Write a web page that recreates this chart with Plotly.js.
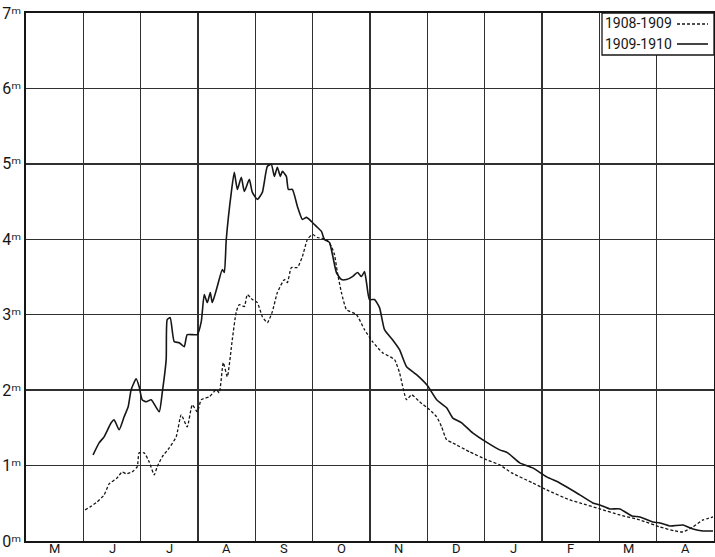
<!DOCTYPE html>
<html>
<head>
<meta charset="utf-8">
<script src="https://cdn.plot.ly/plotly-3.0.1.min.js"></script>
<style>html,body{margin:0;padding:0;background:#fff;}#chart{width:715px;height:557px;}</style>
</head>
<body>
<div id="chart"></div>
<script>
// Months (x axis is in months from the start of May; 0..12)
const monthLabels = ["M","J","J","A","S","O","N","D","J","F","M","A"];
const monthBounds = [0,1,2,3,4,5,6,7,8,9,10,11,12];

// Y axis ticks (metres)
const yTicks = [0,1,2,3,4,5,6,7];
const yTickText = ["0ᵐ","1ᵐ","2ᵐ","3ᵐ","4ᵐ","5ᵐ","6ᵐ","7ᵐ"];

// Series 1909-1910 (solid)
const t1910 = [1.170,1.275,1.362,1.485,1.537,1.624,1.712,1.782,1.834,1.921,1.974,2.026,2.096,2.183,2.323,2.376,2.445,2.463,2.515,2.585,2.672,2.760,2.812,2.987,3.057,3.109,3.162,3.214,3.249,3.336,3.424,3.459,3.493,3.581,3.633,3.686,3.755,3.808,3.895,3.948,4.035,4.122,4.210,4.279,4.332,4.384,4.437,4.472,4.541,4.576,4.646,4.734,4.821,4.891,4.978,5.066,5.153,5.205,5.293,5.345,5.415,5.502,5.590,5.694,5.782,5.852,5.904,5.939,5.991,6.079,6.166,6.253,6.393,6.515,6.638,6.812,7.004,7.162,7.336,7.441,7.598,7.790,8.052,8.262,8.402,8.611,8.838,9.083,9.310,9.607,9.886,10.009,10.183,10.358,10.568,10.707,10.934,11.057,11.231,11.459,11.633,11.808,11.983];
const h1910 = [1.142,1.301,1.381,1.567,1.607,1.474,1.647,1.780,2.005,2.151,2.045,1.873,1.846,1.873,1.713,1.965,2.404,2.935,2.961,2.643,2.629,2.576,2.736,2.736,2.908,3.267,3.161,3.293,3.161,3.373,3.599,3.559,3.997,4.622,4.887,4.661,4.821,4.635,4.794,4.622,4.529,4.622,4.967,4.993,4.834,4.954,4.834,4.900,4.834,4.661,4.661,4.436,4.263,4.290,4.236,4.170,4.104,3.997,3.958,3.798,3.559,3.466,3.466,3.506,3.559,3.506,3.572,3.426,3.201,3.201,3.094,2.802,2.669,2.537,2.311,2.205,2.058,1.873,1.766,1.633,1.567,1.434,1.301,1.208,1.169,1.036,0.969,0.850,0.770,0.637,0.505,0.478,0.425,0.425,0.332,0.319,0.252,0.239,0.199,0.212,0.159,0.133,0.133];

// Series 1908-1909 (dotted)
const t1909 = [1.031,1.118,1.240,1.362,1.450,1.590,1.677,1.747,1.852,1.939,1.974,2.061,2.148,2.236,2.288,2.376,2.498,2.620,2.707,2.812,2.900,2.987,3.057,3.197,3.319,3.371,3.441,3.511,3.598,3.668,3.721,3.808,3.860,3.948,4.035,4.122,4.210,4.297,4.384,4.507,4.559,4.629,4.734,4.821,4.908,4.996,5.083,5.240,5.328,5.380,5.432,5.502,5.590,5.764,5.904,6.044,6.218,6.428,6.515,6.638,6.725,6.865,7.039,7.162,7.249,7.336,7.441,7.738,8.035,8.262,8.472,8.838,9.083,9.485,9.659,10.009,10.358,10.707,11.057,11.319,11.459,11.633,11.808,11.983];
const h1909 = [0.412,0.452,0.518,0.611,0.757,0.837,0.916,0.890,0.916,0.983,1.169,1.169,1.049,0.876,0.983,1.116,1.235,1.381,1.673,1.514,1.806,1.713,1.873,1.912,2.005,1.965,2.364,2.178,2.669,3.041,3.134,3.108,3.267,3.201,3.161,2.975,2.895,3.041,3.293,3.466,3.426,3.625,3.625,3.772,3.997,4.064,4.024,3.997,3.904,3.798,3.559,3.293,3.068,3.001,2.802,2.643,2.497,2.404,2.231,1.873,1.939,1.846,1.740,1.647,1.514,1.341,1.301,1.182,1.076,1.009,0.903,0.770,0.677,0.544,0.505,0.425,0.345,0.279,0.186,0.133,0.120,0.186,0.279,0.319];

const seriesNames = ["1908-1909","1909-1910"];
const ink = "#161616";
const font = "Roboto,'DejaVu Sans','Liberation Sans',sans-serif";

const traces = [
  {x: t1909, y: h1909, name: seriesNames[0], mode: "lines", showlegend: false,
   line: {color: ink, width: 1.3, dash: "3px,2px", shape: "spline", smoothing: 0.5}, hoverinfo: "skip"},
  {x: t1910, y: h1910, name: seriesNames[1], mode: "lines", showlegend: false,
   line: {color: ink, width: 1.6, shape: "spline", smoothing: 0.5}, hoverinfo: "skip"}
];

const L = 26, R = 1, T = 13, B = 16;
const pw = 715 - L - R, ph = 557 - T - B;
const px = v => (v - L) / pw;          // page px -> paper x (legend box only)
const py = v => (557 - B - v) / ph;    // page px -> paper y (legend box only)

// month labels centred in each month column, kept inside the bottom edge
const monthAnnots = monthLabels.map((m, i) => ({
  text: m, x: (monthBounds[i] + monthBounds[i + 1]) / 2, xref: "x",
  y: -B / ph, yref: "paper", yanchor: "bottom", xanchor: "center", borderpad: 0,
  showarrow: false, font: {size: 13, family: font, color: ink}
}));

const layout = {
  width: 715, height: 557,
  margin: {l: L, r: R, t: T, b: B, pad: 0},
  paper_bgcolor: "#fff", plot_bgcolor: "#fff",
  font: {family: font, color: ink},
  xaxis: {
    range: [0, 12], tickmode: "array", tickvals: monthBounds, showticklabels: false,
    ticks: "", showgrid: true, gridcolor: "#303030", gridwidth: 1.5,
    zeroline: false, showline: true, mirror: true, linecolor: ink, linewidth: 1.6, fixedrange: true
  },
  yaxis: {
    range: [0, 7], tickmode: "array", tickvals: yTicks, ticktext: yTickText,
    ticks: "", showgrid: true, gridcolor: "#303030", gridwidth: 1.5,
    zeroline: false, showline: true, mirror: true, linecolor: ink, linewidth: 1.6,
    tickfont: {size: 16, color: ink, family: font}, fixedrange: true
  },
  shapes: [
    {type: "rect", xref: "paper", yref: "paper", x0: px(602), x1: 1, y0: py(55), y1: 1,
     fillcolor: "#fff", line: {color: ink, width: 1.3}, layer: "above"},
    {type: "line", xref: "paper", yref: "paper", x0: px(677), x1: px(708), y0: py(24), y1: py(24),
     line: {color: ink, width: 1.3, dash: "3px,2px"}, layer: "above"},
    {type: "line", xref: "paper", yref: "paper", x0: px(677), x1: px(708), y0: py(44), y1: py(44),
     line: {color: ink, width: 1.6}, layer: "above"}
  ],
  annotations: [
    {text: seriesNames[0], xref: "paper", yref: "paper", x: px(603), y: py(23), xanchor: "left", yanchor: "middle",
     showarrow: false, font: {size: 14, family: font, color: ink}},
    {text: seriesNames[1], xref: "paper", yref: "paper", x: px(603), y: py(44), xanchor: "left", yanchor: "middle",
     showarrow: false, font: {size: 14, family: font, color: ink}}
  ].concat(monthAnnots)
};

Plotly.newPlot("chart", traces, layout, {staticPlot: true, displayModeBar: false});
</script>
</body>
</html>
